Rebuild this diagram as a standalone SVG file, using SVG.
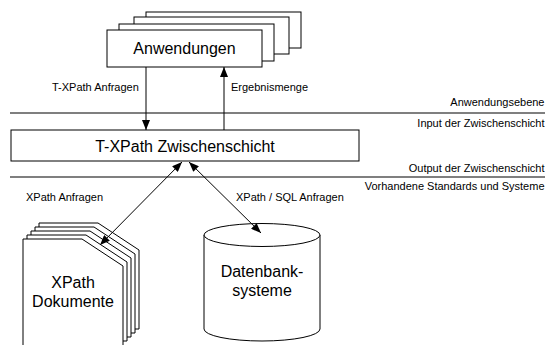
<svg xmlns="http://www.w3.org/2000/svg" width="545" height="345" viewBox="0 0 545 345">
<defs>
<style>
.box{fill:#fff;stroke:#000;stroke-width:1}
.ln{stroke:#000;stroke-width:1.2;fill:none}
.big{font-family:"Liberation Sans",Arial,sans-serif;font-size:16px;fill:#000;text-anchor:middle}
.sm{font-family:"Liberation Sans",Arial,sans-serif;font-size:11px;fill:#000}
.r{text-anchor:end}
.con{stroke:#000;stroke-width:1;fill:none}
</style>
<marker id="ah" viewBox="0 0 10 8" refX="10" refY="4" markerWidth="10" markerHeight="8" markerUnits="userSpaceOnUse" orient="auto-start-reverse">
<path d="M0,0 L10,4 L0,8 Z" fill="#000"/>
</marker>
</defs>
<rect width="545" height="345" fill="#fff"/>

<g id="layers">
<line class="ln" x1="10" y1="113" x2="545" y2="113"/>
<line class="ln" x1="10" y1="177" x2="545" y2="177"/>
<text class="sm r" x="544.5" y="106">Anwendungsebene</text>
<text class="sm r" x="544.5" y="127">Input der Zwischenschicht</text>
<text class="sm r" x="544.5" y="172">Output der Zwischenschicht</text>
<text class="sm r" x="544.5" y="190">Vorhandene Standards und Systeme</text>
</g>

<g id="anwendungen">
<rect class="box" x="146" y="12" width="155" height="36"/>
<rect class="box" x="134" y="17" width="155" height="37"/>
<rect class="box" x="119" y="24" width="155" height="37"/>
<rect class="box" x="107" y="30" width="155" height="37"/>
<text class="big" x="184.5" y="54">Anwendungen</text>
</g>

<g id="zwischenschicht">
<rect class="box" x="11" y="130" width="348" height="31"/>
<text class="big" x="185" y="152">T-XPath Zwischenschicht</text>
</g>

<g id="dokumente">
<path class="box" d="M39,352 V223 H98 L139,250 V329 H39"/>
<path class="box" d="M35,356 V227 H94 L135,254 V333 H35"/>
<path class="box" d="M31,360 V231 H90 L131,258 V337 H31"/>
<path class="box" d="M27,364 V235 H86 L127,262 V341 H27"/>
<path class="box" d="M23,368 V239 H82 L123,266 V368"/>
<text class="big" x="73" y="288">XPath</text>
<text class="big" x="73" y="307">Dokumente</text>
</g>

<g id="datenbank">
<path class="box" d="M204,235 V329 A58,12 0 0 0 320,329 V235"/>
<ellipse class="box" cx="262" cy="235" rx="58" ry="11.5"/>
<text class="big" x="262" y="277">Datenbank-</text>
<text class="big" x="262" y="296">systeme</text>
</g>

<g id="connectors">
<line class="con" x1="146" y1="67" x2="146" y2="130" marker-end="url(#ah)"/>
<line class="con" x1="224" y1="130" x2="224" y2="67" marker-end="url(#ah)"/>
<line class="con" x1="182" y1="162" x2="100" y2="245" marker-start="url(#ah)" marker-end="url(#ah)"/>
<line class="con" x1="189" y1="162" x2="261" y2="233" marker-start="url(#ah)" marker-end="url(#ah)"/>
<text class="sm" x="52" y="91">T-XPath Anfragen</text>
<text class="sm" x="231" y="91">Ergebnismenge</text>
<text class="sm" x="26" y="201">XPath Anfragen</text>
<text class="sm" x="236" y="201">XPath / SQL Anfragen</text>
</g>
</svg>
